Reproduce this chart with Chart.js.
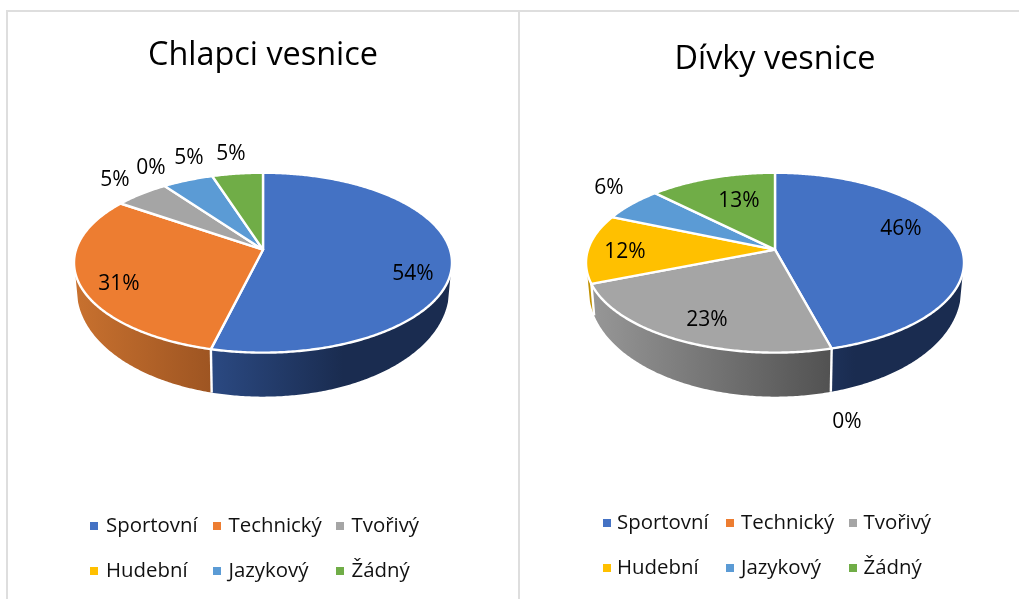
<!DOCTYPE html>
<html><head><meta charset="utf-8">
<script src="https://cdn.jsdelivr.net/npm/chart.js@4/dist/chart.umd.min.js"></script>
<style>
html,body{margin:0;padding:0;background:#fff;width:1019px;height:599px;overflow:hidden}
.ln{position:absolute;background:#dedede}
canvas{position:absolute}
#wrapL{position:absolute;left:4px;top:0;width:517px;height:599px}
#wrapR{position:absolute;left:535px;top:0;width:484px;height:599px}
</style></head><body>
<div class="ln" style="left:6px;top:10px;width:1013px;height:2px"></div>
<div class="ln" style="left:6px;top:10px;width:2px;height:589px"></div>
<div class="ln" style="left:518px;top:10px;width:2px;height:589px"></div>
<div id="wrapL"><canvas id="chartL"></canvas></div>
<div id="wrapR"><canvas id="chartR"></canvas></div>
<script>
const categories = ["Sportovní","Technický","Tvořivý","Hudební","Jazykový","Žádný"];
const boysValues = [53.85,30.75,5.4,0,5,5];
const girlsValues = [45.8,0,23.2,12.4,6.1,12.5];
const boysTitle = "Chlapci vesnice";
const girlsTitle = "Dívky vesnice";
const colors = ["#4472C4","#ED7D31","#A5A5A5","#FFC000","#5B9BD5","#70AD47"];

// styling of the tilted disc
const FONT = "'Open Sans'";
const TILT = 0.471, PERSP = 0.1445, BOTTOM_SCALE = 0.985, DEPTH_BASE = 24, DEPTH_FRONT = 20, WALL_FROM = 0.25;
const wallStops = [
  {from:-60,to:80,c0:"#2C4B85",c1:"#1A2C50"},
  {from:-188,to:-52,c0:"#C8712F",c1:"#9E5522"},
  {from:-183,to:55,c0:"#979797",c1:"#525252"},
  {from:-190,to:-170,c0:"#C09000",c1:"#BF9000"},
  {from:-100,to:0,c0:"#3F74A5",c1:"#3F74A5"},
  {from:-100,to:0,c0:"#4F7A32",c1:"#4F7A32"}
];

function discPoint(el,theta,bottom){
  const a=el.outerRadius,b=a*TILT,u=Math.sin(theta),v=-Math.cos(theta),w=1-PERSP*v;
  let dx=a*u/w,y=el.y+b*v/w;
  if(bottom){dx*=BOTTOM_SCALE;y+=DEPTH_BASE+DEPTH_FRONT*v;}
  return {x:el.x+dx,y};
}
function sweep(ctx,el,t0,t1,bottom,first){
  const n=Math.max(2,Math.ceil(Math.abs(t1-t0)/0.01));
  for(let i=0;i<=n;i++){
    const p=discPoint(el,t0+(t1-t0)*i/n,bottom);
    if(i===0&&first)ctx.moveTo(p.x,p.y);else ctx.lineTo(p.x,p.y);
  }
}
const disc3d={
  id:"disc3d",
  beforeDatasetDraw(chart){
    const ctx=chart.ctx,els=chart.getDatasetMeta(0).data;
    const fr0=Math.acos(-WALL_FROM),fr1=2*Math.PI-fr0;
    ctx.save();
    els.forEach((el,i)=>{
      const s=el.startAngle+Math.PI/2,e=el.endAngle+Math.PI/2;
      const t0=Math.max(s,fr0),t1=Math.min(e,fr1);
      if(t1<=t0||e-s<1e-6)return;
      const st=wallStops[i],g=ctx.createLinearGradient(el.x+st.from,0,el.x+st.to,0);
      g.addColorStop(0,st.c0);g.addColorStop(1,st.c1);
      ctx.beginPath();sweep(ctx,el,t0,t1,false,true);sweep(ctx,el,t1,t0,true,false);ctx.closePath();
      ctx.fillStyle=g;ctx.fill();
    });
    ctx.strokeStyle="#fff";ctx.lineWidth=2.4;
    els.forEach(el=>{
      const s=el.startAngle+Math.PI/2;
      if(s>fr0&&s<fr1&&el.endAngle>el.startAngle){
        const p=discPoint(el,s,false),q=discPoint(el,s,true);
        ctx.beginPath();ctx.moveTo(p.x,p.y);ctx.lineTo(q.x,q.y);ctx.stroke();
      }
    });
    ctx.lineJoin="round";
    els.forEach((el,i)=>{
      const s=el.startAngle+Math.PI/2,e=el.endAngle+Math.PI/2;
      if(e-s<1e-6)return;
      ctx.beginPath();ctx.moveTo(el.x,el.y);sweep(ctx,el,s,e,false,false);ctx.closePath();
      ctx.fillStyle=colors[i];ctx.fill();ctx.stroke();
    });
    ctx.restore();
    return false;
  }
};
const sliceLabels={
  id:"sliceLabels",
  afterDatasetsDraw(chart,args,opts){
    const ctx=chart.ctx,el0=chart.getDatasetMeta(0).data[0],vals=chart.data.datasets[0].data;
    ctx.save();ctx.font="21px "+FONT;ctx.fillStyle="#000";ctx.textAlign="center";ctx.textBaseline="middle";
    vals.forEach((v,i)=>ctx.fillText(Math.round(v)+"%",el0.x+opts.offsets[i][0],el0.y+opts.offsets[i][1]));
    ctx.restore();
  }
};
const gridLegend={
  id:"gridLegend",
  afterDraw(chart,args,opts){
    const ctx=chart.ctx;
    ctx.save();ctx.font="20.4px "+FONT;ctx.textBaseline="middle";ctx.textAlign="left";
    chart.data.labels.forEach((lab,i)=>{
      const c=i%3,r=Math.floor(i/3);
      ctx.fillStyle=colors[i];ctx.fillRect(opts.sw[c],opts.rows[r]-4,8,8);
      ctx.fillStyle="#111";ctx.fillText(lab,opts.tx[c],opts.rows[r]);
    });
    ctx.restore();
  }
};
function make(id,w,title,vals,pad,tpad,labelOffsets,legendPos){
  const cv=document.getElementById(id);
  cv.parentNode.style.width=w+"px";
  return new Chart(cv,{
    type:"pie",
    data:{labels:categories,datasets:[{data:vals,backgroundColor:colors,borderColor:"#fff",borderWidth:2}]},
    options:{
      responsive:true,maintainAspectRatio:false,animation:false,radius:187,
      layout:{padding:pad},
      plugins:{
        legend:{display:false},tooltip:{enabled:false},
        title:{display:true,text:title,color:"#000",font:{family:FONT,size:32.4,weight:"normal"},padding:tpad},
        sliceLabels:{offsets:labelOffsets},
        gridLegend:legendPos
      }
    },
    plugins:[disc3d,sliceLabels,gridLegend]
  });
}
make("chartL",517,boysTitle,boysValues,{left:1,bottom:183},{top:36,bottom:8.5},
  [[150,24],[-144,34],[-148,-70],[-112,-82],[-74,-92],[-32,-96]],
  {sw:[86,209,332],tx:[102,224.5,347.5],rows:[526,571]});
make("chartR",484,girlsTitle,girlsValues,{right:4,bottom:187},{top:40,bottom:8.5},
  [[126,-21],[72,172],[-68,70],[-150,2],[-166,-62],[-36,-49]],
  {sw:[68,191,314],tx:[82,206,328.5],rows:[523,568]});
</script>
</body></html>
